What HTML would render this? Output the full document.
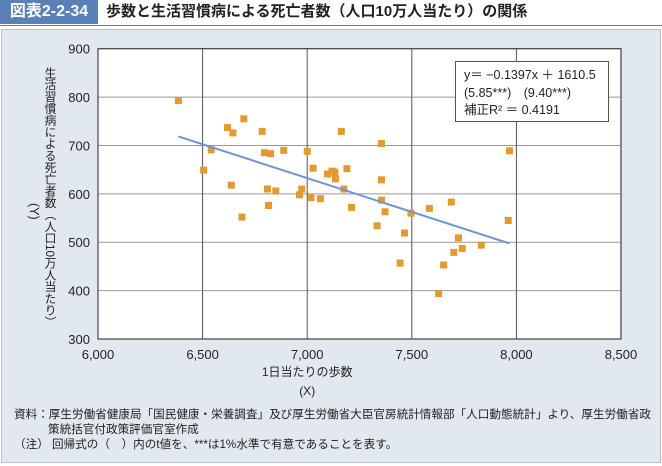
<!DOCTYPE html>
<html><head><meta charset="utf-8">
<style>
html,body{margin:0;padding:0;background:#fff;}
body{width:662px;height:466px;position:relative;overflow:hidden;font-family:"Liberation Sans","Noto Sans CJK JP",sans-serif;}
#hdr-label{position:absolute;left:0;top:0;width:98px;height:24px;background:#5a80b8;color:#fff;font-weight:bold;font-size:16px;line-height:24px;text-align:center;}
#hdr-title{position:absolute;left:106px;top:0;height:24px;line-height:24px;font-weight:bold;font-size:15px;color:#222;}
#hdr-line{position:absolute;left:0;top:25px;width:662px;height:1px;background:#5a80b8;}
#panel{position:absolute;left:1px;top:29px;width:658px;height:432px;background:#e2e8ef;border:1px solid #b8bec6;}
svg{position:absolute;left:0;top:0;}
.note{position:absolute;font-size:11.6px;color:#222;white-space:nowrap;}
</style></head><body>
<div id="hdr-label">図表2-2-34</div>
<div id="hdr-title">歩数と生活習慣病による死亡者数（人口10万人当たり）の関係</div>
<div id="hdr-line"></div>
<div id="panel"></div>
<svg id="chart" width="662" height="466"></svg>
<div class="note" style="left:14px;top:406px;">資料：厚生労働省健康局「国民健康・栄養調査」及び厚生労働省大臣官房統計情報部「人口動態統計」より、厚生労働省政</div>
<div class="note" style="left:48px;top:421px;">策統括官付政策評価官室作成</div>
<div class="note" style="left:14px;top:436px;">（注）&nbsp;回帰式の（　）内のt値を、***は1%水準で有意であることを表す。</div>
<script>
const xTicks=[6000,6500,7000,7500,8000,8500];
const yTicks=[300,400,500,600,700,800,900];
const xTickLabels=["6,000","6,500","7,000","7,500","8,000","8,500"];
const stepsX=[6384,6619,6645,6697,6785,6541,6505,6796,6825,6888,7000,6637,6810,6850,6815,6688,6974,6963,7018,7063,7028,7097,7119,7132,7135,7163,7190,7175,7212,7355,7355,7355,7372,7334,7465,7444,7496,7584,7689,7723,7701,7741,7652,7628,7832,7967,7961];
const deathsY=[793,737,726,755,729,691,649,685,683,690,688,618,610,606,576,552,610,598,592,590,653,641,647,645,631,729,652,610,572,704,629,587,563,534,519,457,560,570,583,509,479,487,453,394,494,689,545];
const slope=-0.1397, intercept=1610.5;
const fitRange=[6384,7967];
const L=98,R=621,T=48.7,B=339;
const sx=v=>L+(v-6000)/2500*(R-L);
const sy=v=>B-(v-300)/600*(B-T);
const svg=document.getElementById('chart');
const NS='http://www.w3.org/2000/svg';
function mk(tag,attrs){const e=document.createElementNS(NS,tag);for(const k in attrs)e.setAttribute(k,attrs[k]);svg.appendChild(e);return e;}
let bg=mk('rect',{x:L,y:T,width:R-L,height:B-T,fill:'#fff'});


yTicks.forEach(v=>{
  const g=mk('line',{x1:L,x2:R,y1:sy(v),y2:sy(v),stroke:'#999','stroke-width':1});
  
  
  const t=mk('text',{x:L-8,y:sy(v)+5,'text-anchor':'end','font-size':13,fill:'#222'});
  t.textContent=v;
  
  
});
xTicks.forEach((v,i)=>{
  const g=mk('line',{x1:sx(v),x2:sx(v),y1:T,y2:B,stroke:'#555','stroke-width':1});
  
  
  const t=mk('text',{x:sx(v),y:359,'text-anchor':'middle','font-size':13,fill:'#222'});
  t.textContent=xTickLabels[i];
  
  
});
let fr=mk('rect',{x:L,y:T,width:R-L,height:B-T,fill:'none',stroke:'#444','stroke-width':1.2});


stepsX.forEach((x,i)=>{
  const p=mk('rect',{x:sx(x)-3.5,y:sy(deathsY[i])-3.5,width:7,height:7,fill:'#e39a2e'});
  
  
});
let fl=mk('line',{x1:sx(fitRange[0]),y1:sy(slope*fitRange[0]+intercept),x2:sx(fitRange[1]),y2:sy(slope*fitRange[1]+intercept),stroke:'#6f95d2','stroke-width':2});


let eb=mk('rect',{x:455.5,y:61.5,width:153,height:60,fill:'#fff',stroke:'#555','stroke-width':1});


[["y＝ −0.1397x ＋ 1610.5",79],["(5.85***)　(9.40***)",97],["補正R² ＝ 0.4191",114]].forEach((s,i)=>{
  const t=mk('text',{x:464,y:s[1],'font-size':12.5,fill:'#222'});
  t.textContent=s[0];
  
  
});
let xt=mk('text',{x:sx(7000),y:376,'text-anchor':'middle','font-size':12,fill:'#222'});
xt.textContent='1日当たりの歩数';


let xs=mk('text',{x:sx(7000),y:395,'text-anchor':'middle','font-size':12,fill:'#222'});
xs.textContent='(X)';


let yt=mk('text',{x:50,y:67,'font-size':11.8,fill:'#222',style:'writing-mode:vertical-rl'});
yt.textContent='生活習慣病による死亡者数（人口10万人当たり）';


let ys=mk('text',{x:34,y:203,'font-size':12.5,fill:'#222',style:'writing-mode:vertical-rl'});
ys.textContent='(Y)';


</script>
</body></html>
